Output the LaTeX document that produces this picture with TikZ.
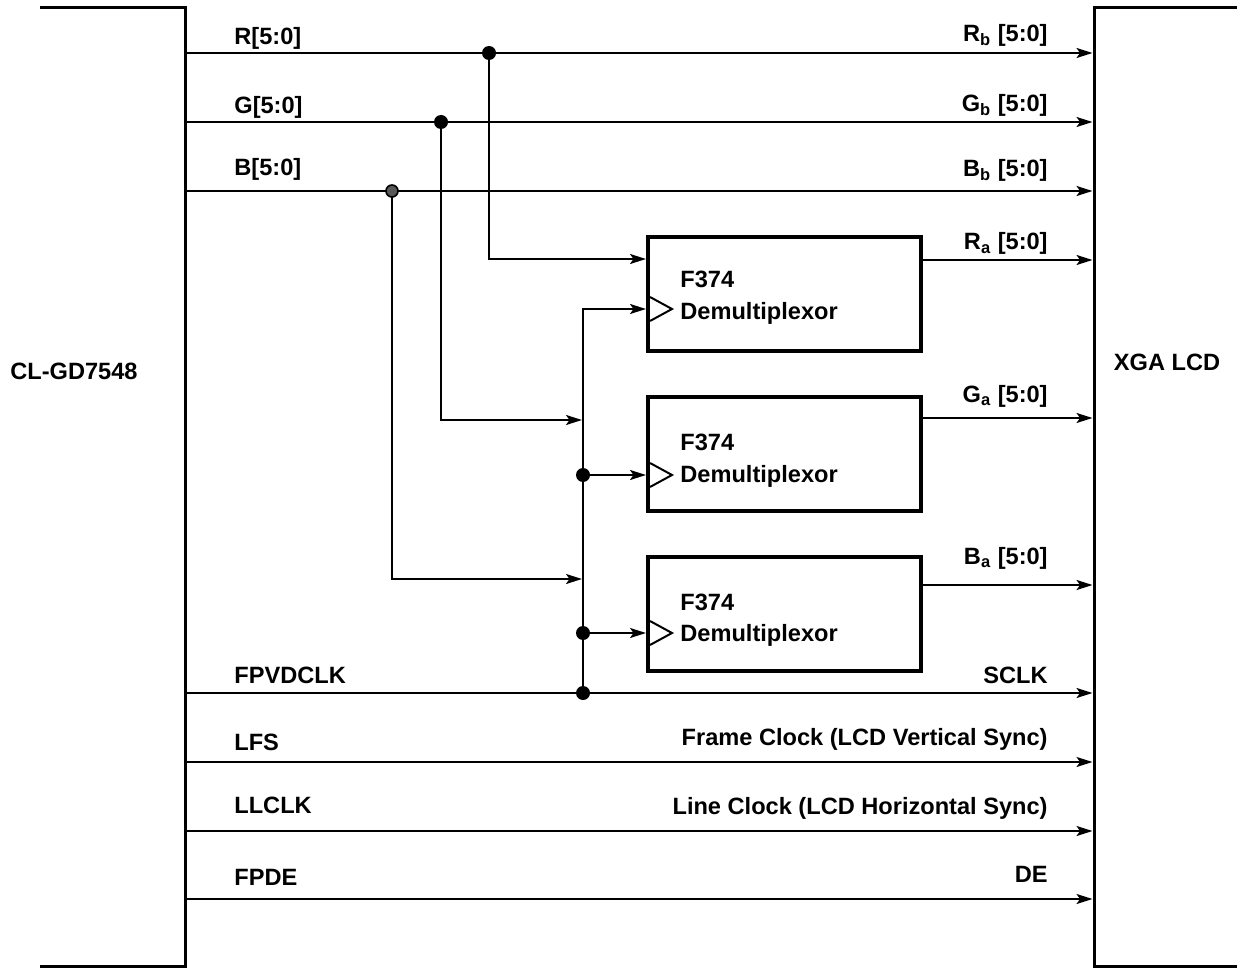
\documentclass[tikz,border=0pt]{standalone}
\usepackage{fontspec}
\setmainfont{Liberation Sans}
\usetikzlibrary{arrows.meta}

\begin{document}
\begin{tikzpicture}[x=0.5pt,y=-0.5pt,font=\fontsize{11.8}{14}\selectfont\bfseries]
\tikzset{
  chip/.style={line width=1.5pt},
  demux/.style={rectangle,draw,line width=2.3pt,minimum width=136.5pt,minimum height=57pt,inner sep=0pt},
  directed/.style={-{Stealth[length=8pt,width=5pt,inset=1.8pt]},line width=1pt},
  tap/.style={circle,fill,inner sep=0pt,minimum size=7pt},
  hatchtap/.style={circle,draw,line width=0.8pt,fill=black!65,inner sep=0pt,minimum size=6pt},
  insig/.style={anchor=base west,inner sep=0pt},
  outsig/.style={anchor=base east,inner sep=0pt},
  boxtext/.style={anchor=base west,inner sep=0pt},
  clktri/.style={line width=1pt}
}
\useasboundingbox (0,0) rectangle (1237,968);
% the two chips
\draw[chip] (40,8) -| (185,966) -- (40,966);
\draw[chip] (1237,8) -| (1094,966) -- (1237,966);
\node (n_cl) at (74,371) {CL-GD7548};
\node (n_xga) at (1167,362) {XGA LCD};
% demultiplexors
\node[demux] (n_dm_r) at (784.5,294) {};
\node[demux] (n_dm_g) at (784.5,454) {};
\node[demux] (n_dm_b) at (784.5,614) {};
\node[boxtext] (n_t_r1) at (680,288) {F374};
\node[boxtext] (n_t_r2) at (680,320) {Demultiplexor};
\node[boxtext] (n_t_g1) at (680,450) {F374};
\node[boxtext] (n_t_g2) at (680,482) {Demultiplexor};
\node[boxtext] (n_t_b1) at (680,610) {F374};
\node[boxtext] (n_t_b2) at (680,641) {Demultiplexor};
% pins
\coordinate (n_r_src) at (185,53);
\coordinate (n_g_src) at (185,122);
\coordinate (n_b_src) at (185,191);
\coordinate (n_fpv_src) at (185,693);
\coordinate (n_lfs_src) at (185,762);
\coordinate (n_llclk_src) at (185,831);
\coordinate (n_fpde_src) at (185,899);
\coordinate (n_rb_dst) at (1092.5,53);
\coordinate (n_gb_dst) at (1092.5,122);
\coordinate (n_bb_dst) at (1092.5,191);
\coordinate (n_ra_dst) at (1092.5,260);
\coordinate (n_ga_dst) at (1092.5,418);
\coordinate (n_ba_dst) at (1092.5,585);
\coordinate (n_sclk_dst) at (1092.5,693);
\coordinate (n_frame_dst) at (1092.5,762);
\coordinate (n_line_dst) at (1092.5,831);
\coordinate (n_de_dst) at (1092.5,899);
% taps and inputs
\coordinate (n_r_tap) at (489,53);
\coordinate (n_g_tap) at (441,122);
\coordinate (n_b_tap) at (392,191);
\coordinate (n_ck_tap) at (583,693);
\coordinate (n_ck_g) at (583,475);
\coordinate (n_ck_b) at (583,633);
\coordinate (n_g_join) at (582,420);
\coordinate (n_b_join) at (582,579);
\coordinate (n_d_in_r) at (646,259);
\coordinate (n_ck_in_r) at (646,309);
\coordinate (n_ck_in_g) at (646,475);
\coordinate (n_ck_in_b) at (646,633);
% signal lines
\draw[directed] (n_r_src) -- (n_rb_dst);
\draw[directed] (n_g_src) -- (n_gb_dst);
\draw[directed] (n_b_src) -- (n_bb_dst);
\draw[directed] (n_fpv_src) -- (n_sclk_dst);
\draw[directed] (n_lfs_src) -- (n_frame_dst);
\draw[directed] (n_llclk_src) -- (n_line_dst);
\draw[directed] (n_fpde_src) -- (n_de_dst);
\draw[directed] (n_dm_r.east|-n_ra_dst) -- (n_ra_dst);
\draw[directed] (n_dm_g.east|-n_ga_dst) -- (n_ga_dst);
\draw[directed] (n_dm_b.east|-n_ba_dst) -- (n_ba_dst);
\draw[directed] (n_r_tap) |- (n_d_in_r);
\draw[directed] (n_g_tap) |- (n_g_join);
\draw[directed] (n_b_tap) |- (n_b_join);
\draw[directed] (n_ck_tap) |- (n_ck_in_r);
\draw[directed] (n_ck_g) -- (n_ck_in_g);
\draw[directed] (n_ck_b) -- (n_ck_in_b);
\foreach \c in {n_ck_in_r,n_ck_in_g,n_ck_in_b}
  \draw[clktri] ([shift={(4,-12)}]\c) -- ++(22,12) -- ++(-22,12);
\node[tap] (n_r_dot) at (n_r_tap) {};
\node[tap] (n_g_dot) at (n_g_tap) {};
\node[hatchtap] (n_b_dot) at (n_b_tap) {};
\node[tap] (n_ck_dot) at (n_ck_tap) {};
\node[tap] (n_ck_g_dot) at (n_ck_g) {};
\node[tap] (n_ck_b_dot) at (n_ck_b) {};
% labels
\node[insig] (n_l_r) at (234,45) {R[5:0]};
\node[insig] (n_l_g) at (234,114) {G[5:0]};
\node[insig] (n_l_b) at (234,176) {B[5:0]};
\node[insig] (n_l_fpv) at (234,683) {FPVDCLK};
\node[insig] (n_l_lfs) at (234,750) {LFS};
\node[insig] (n_l_llclk) at (234,813) {LLCLK};
\node[insig] (n_l_fpde) at (234,885) {FPDE};
\node[outsig] (n_l_rb) at (1048,42) {R\textsubscript{b} [5:0]};
\node[outsig] (n_l_gb) at (1048,112) {G\textsubscript{b} [5:0]};
\node[outsig] (n_l_bb) at (1048,177) {B\textsubscript{b} [5:0]};
\node[outsig] (n_l_ra) at (1048,250) {R\textsubscript{a} [5:0]};
\node[outsig] (n_l_ga) at (1048,402) {G\textsubscript{a} [5:0]};
\node[outsig] (n_l_ba) at (1048,564) {B\textsubscript{a} [5:0]};
\node[outsig] (n_l_sclk) at (1048,683) {SCLK};
\node[outsig] (n_l_frame) at (1048,745) {Frame Clock (LCD Vertical Sync)};
\node[outsig] (n_l_line) at (1048,814) {Line Clock (LCD Horizontal Sync)};
\node[outsig] (n_l_de) at (1048,882) {DE};
\end{tikzpicture}
\end{document}
